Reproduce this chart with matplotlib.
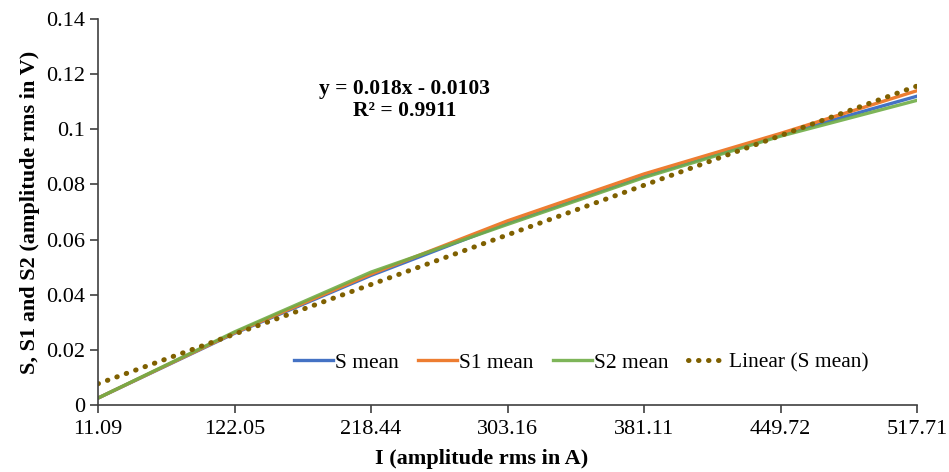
import matplotlib.pyplot as plt
import numpy as np

plt.rcParams['font.family'] = ['Liberation Serif', 'DejaVu Serif']

kategorie = ['11.09', '122.05', '218.44', '303.16', '381.11', '449.72', '517.71']
s_mean = [0.0025, 0.0260, 0.0470, 0.0660, 0.0830, 0.0980, 0.1120]
s1_mean = [0.0025, 0.0262, 0.0475, 0.0668, 0.0838, 0.0985, 0.1140]
s2_mean = [0.0025, 0.0265, 0.0482, 0.0655, 0.0825, 0.0975, 0.1105]
trend_a = 0.018
trend_b = -0.0103

x = np.arange(len(kategorie))
fig = plt.figure(figsize=(9.49, 4.72), dpi=100)
ax = fig.add_axes([98 / 949, 67 / 472, 819 / 949, 386 / 472])

ax.plot(x, s_mean, color='#4472C4', lw=2.4, label='S mean')
ax.plot(x, s1_mean, color='#ED7D31', lw=2.4, label='S1 mean')
ax.plot(x, s2_mean, color='#70AD47', lw=2.4, label='S2 mean', alpha=0.9)
xt = np.linspace(0, len(kategorie) - 1, 200)
ax.plot(xt, trend_a * (xt + 1) + trend_b, color='#7F6000', lw=3.6,
        linestyle=(0, (0.1, 1.9)), dash_capstyle='round', label='Linear (S mean)')

ax.set_xlim(0, len(kategorie) - 1)
ax.set_ylim(0, 0.14)
ax.set_xticks(x)
ax.set_xticklabels(kategorie)
ax.set_yticks(np.arange(0, 0.141, 0.02))
ax.set_yticklabels(['0', '0.02', '0.04', '0.06', '0.08', '0.1', '0.12', '0.14'])
for s in ['top', 'right']:
    ax.spines[s].set_visible(False)
for s in ['left', 'bottom']:
    ax.spines[s].set_color('#404040')
    ax.spines[s].set_linewidth(1.2)
ax.tick_params(colors='#404040', labelcolor='black', labelsize=16, length=6, width=1.2)
ax.tick_params(axis='x', pad=5)

ax.set_xlabel('I (amplitude rms in A)', fontsize=16, fontweight='bold')
ax.xaxis.set_label_coords(0.468, -0.113)
ax.set_ylabel('S, S1 and S2 (amplitude rms in V)', fontsize=16, fontweight='bold', labelpad=4)

ax.text(0.374, 0.79, 'y = 0.018x - 0.0103\nR² = 0.9911', transform=ax.transAxes,
        ha='center', va='center', fontsize=15.5, fontweight='bold', linespacing=1.15)

ax.legend(loc='center', bbox_to_anchor=(0.59, 0.11), ncol=4, frameon=False, fontsize=15.5,
          handlelength=1.8, handletextpad=0.1, columnspacing=0.9)

plt.savefig('out.png', dpi=100)
